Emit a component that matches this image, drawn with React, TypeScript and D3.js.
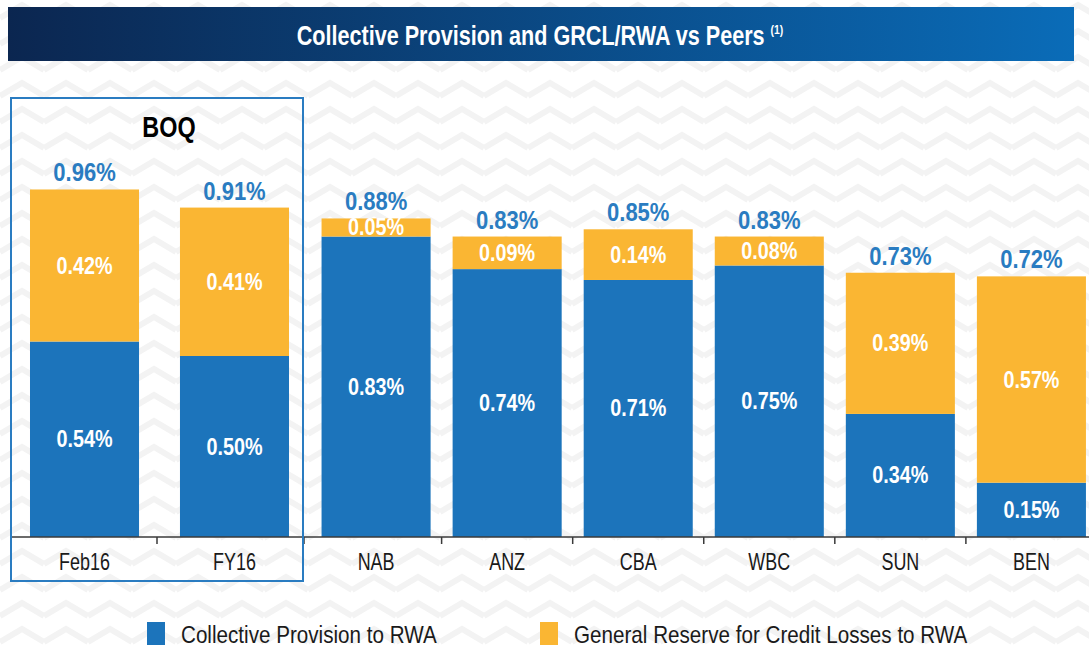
import React, { useEffect, useRef } from "react";
import * as d3 from "d3";

const boqCats = ["Feb16", "FY16"];
const peerCats = ["NAB", "ANZ", "CBA", "WBC", "SUN", "BEN"];
const collective = [0.54, 0.50, 0.83, 0.74, 0.71, 0.75, 0.34, 0.15];
const grcl = [0.42, 0.41, 0.05, 0.09, 0.14, 0.08, 0.39, 0.57];
const totals = [0.96, 0.91, 0.88, 0.83, 0.85, 0.83, 0.73, 0.72];
const legendLabels = ["Collective Provision to RWA", "General Reserve for Credit Losses to RWA"];

const BLUE = "#1c74bb";
const GOLD = "#fab633";
const LABEL_BLUE = "#2a7cc1";
const FONT = "'Liberation Sans', Arial, sans-serif";

// condensed look: normal font squeezed horizontally
const addText = (parent, x, y, txt, { size, weight = "normal", fill = "#1a1a1a", anchor = "middle", sx = 0.8 }) =>
    parent.append("text")
        .attr("transform", `translate(${x},${y}) scale(${sx},1)`)
        .attr("text-anchor", anchor)
        .attr("fill", fill)
        .attr("font-family", FONT)
        .attr("font-weight", weight)
        .attr("font-size", size)
        .text(txt);

const App = () => {
    const svgRef = useRef<SVGSVGElement>(null);

    useEffect(() => {
        const width = 1089, height = 645;
        const svg = d3.select(svgRef.current)
            .attr("width", width)
            .attr("height", height);
        svg.selectAll("*").remove();

        // faint chevron background
        const defs = svg.append("defs");
        const pat = defs.append("pattern")
            .attr("id", "chev")
            .attr("width", 44).attr("height", 26)
            .attr("patternUnits", "userSpaceOnUse");
        pat.append("path")
            .attr("d", "M0,18 L22,5 L44,18")
            .attr("fill", "none")
            .attr("stroke", "#f3f3f3")
            .attr("stroke-width", 6);
        svg.append("rect").attr("width", width).attr("height", height).attr("fill", "#fff");
        svg.append("rect").attr("width", width).attr("height", height).attr("fill", "url(#chev)");

        // title banner
        const grad = defs.append("linearGradient").attr("id", "banner")
            .attr("x1", "0%").attr("x2", "100%").attr("y1", "0%").attr("y2", "0%");
        grad.append("stop").attr("offset", "0%").attr("stop-color", "#0b2650");
        grad.append("stop").attr("offset", "100%").attr("stop-color", "#0a6cb8");
        svg.append("rect")
            .attr("x", 8).attr("y", 7).attr("width", 1066).attr("height", 54)
            .attr("fill", "url(#banner)");
        const title = addText(svg, 540, 45, "", { size: 27, weight: "bold", fill: "#fff", sx: 0.8 });
        title.append("tspan").text("Collective Provision and GRCL/RWA vs Peers ");
        title.append("tspan").attr("font-size", 13).attr("dy", -11).text("(1)");

        const baseY = 537;
        const y = d3.scaleLinear().domain([0, 1]).range([baseY, 175]);

        const xBoq = d3.scaleBand().domain(boqCats).range([12, 307]).paddingInner(0.273).paddingOuter(0.12);
        const xPeer = d3.scaleBand().domain(peerCats).range([315, 1092.5]).paddingInner(0.168).paddingOuter(0.05);

        const cats = [...boqCats, ...peerCats];
        const xPos = (i) => (i < 2 ? xBoq(cats[i]) : xPeer(cats[i]));
        const bw = (i) => (i < 2 ? xBoq.bandwidth() : xPeer.bandwidth());

        const g = svg.append("g");
        cats.forEach((c, i) => {
            const x0 = xPos(i), w = bw(i);
            const cx = x0 + w / 2;
            const yTop1 = y(collective[i]);
            const yTop2 = y(collective[i] + grcl[i]);
            g.append("rect")
                .attr("x", x0).attr("y", yTop1).attr("width", w).attr("height", baseY - yTop1)
                .attr("fill", BLUE);
            g.append("rect")
                .attr("x", x0).attr("y", yTop2).attr("width", w).attr("height", yTop1 - yTop2)
                .attr("fill", GOLD);

            addText(g, cx, (yTop1 + baseY) / 2 + 8, collective[i].toFixed(2) + "%",
                { size: 23, weight: "bold", fill: "#fff", sx: 0.86 });
            addText(g, cx, (yTop1 + yTop2) / 2 + 8, grcl[i].toFixed(2) + "%",
                { size: 23, weight: "bold", fill: "#fff", sx: 0.86 });
            addText(g, cx, yTop2 - 8, totals[i].toFixed(2) + "%",
                { size: 25, weight: "bold", fill: LABEL_BLUE, sx: 0.88 });
            addText(g, cx, 570, c, { size: 23, sx: 0.78 });
        });

        // axis line and ticks
        svg.append("line")
            .attr("x1", 11).attr("x2", 1089).attr("y1", baseY).attr("y2", baseY)
            .attr("stroke", "#3a3a3a").attr("stroke-width", 1.5);
        const tickXs = [11, 157, 304];
        peerCats.slice(1).forEach((c) => {
            tickXs.push(xPeer(c) - (xPeer.step() - xPeer.bandwidth()) / 2);
        });
        svg.selectAll(".tick")
            .data(tickXs)
            .enter()
            .append("line")
            .attr("x1", d => d).attr("x2", d => d)
            .attr("y1", baseY).attr("y2", baseY + 7)
            .attr("stroke", "#3a3a3a").attr("stroke-width", 1.5);

        // BOQ box
        svg.append("rect")
            .attr("x", 11).attr("y", 98).attr("width", 292).attr("height", 483)
            .attr("fill", "none").attr("stroke", "#2a7cc1").attr("stroke-width", 2);
        addText(svg, 169, 137, "BOQ", { size: 30, weight: "bold", fill: "#000", sx: 0.78 });

        // legend
        const legend = svg.append("g");
        [[147, BLUE], [540, GOLD]].forEach(([lx, col], i) => {
            legend.append("rect")
                .attr("x", lx).attr("y", 622).attr("width", 18).attr("height", 24)
                .attr("fill", col);
            addText(legend, lx + 34, 643, legendLabels[i], { size: 24, anchor: "start", sx: 0.86 });
        });
    }, []);

    return <svg ref={svgRef} style={{ position: "absolute", left: 0, top: 0 }}></svg>;
};

export default App;
